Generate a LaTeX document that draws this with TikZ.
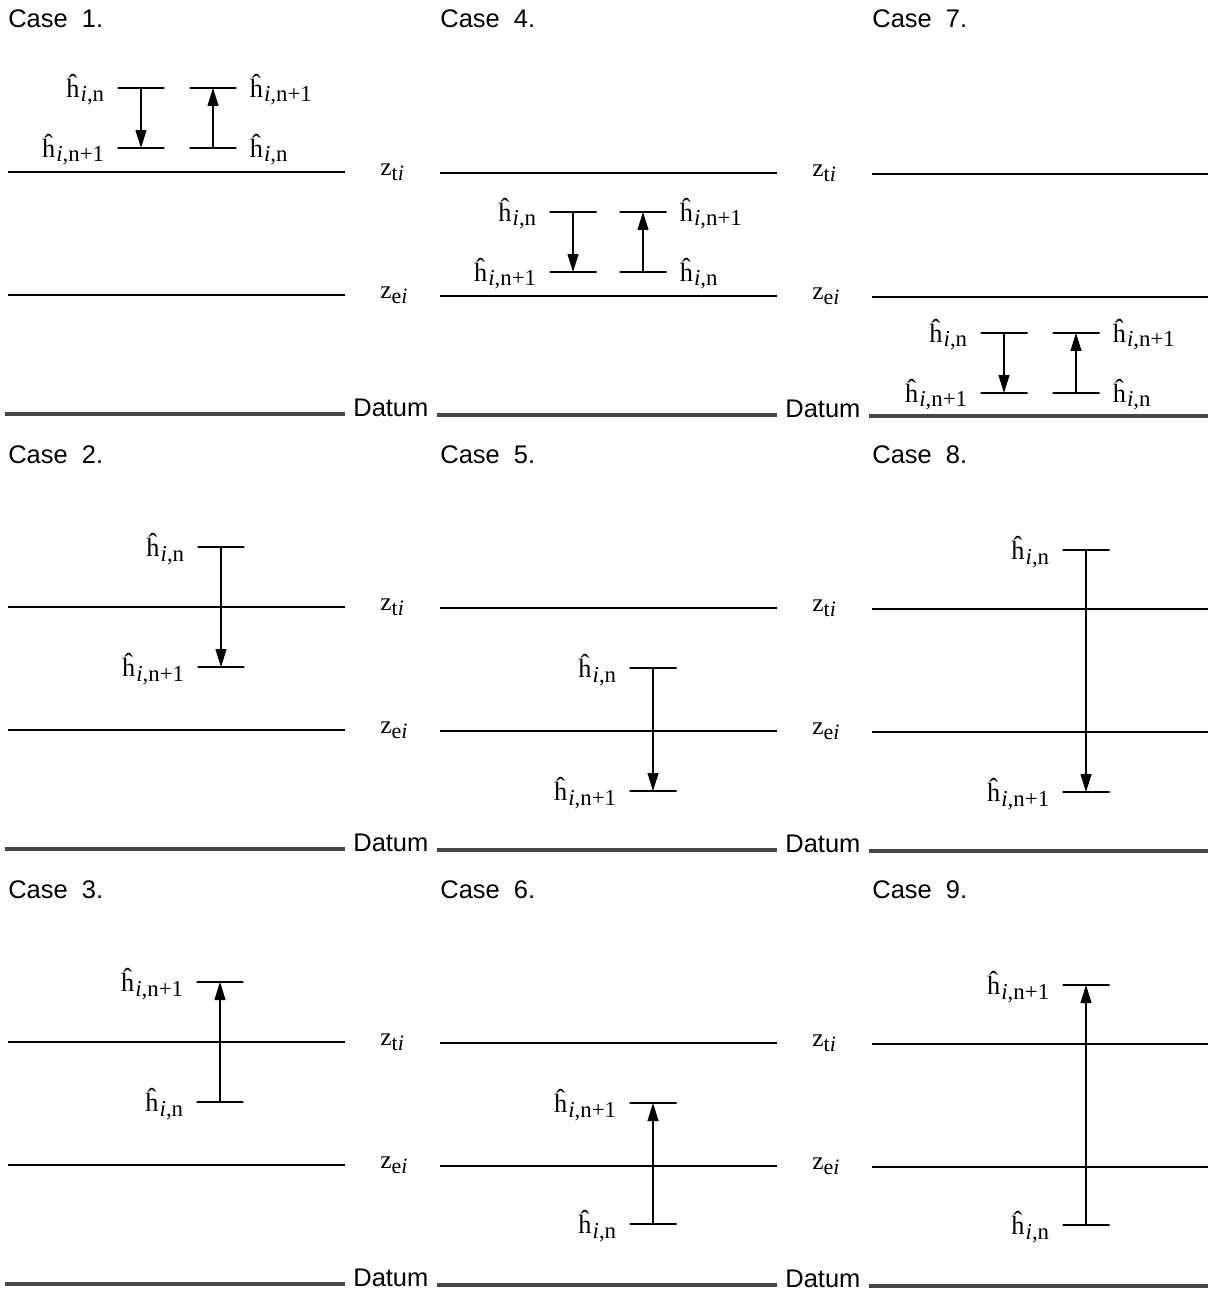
\documentclass[tikz,border=0pt]{standalone}
\usepackage{fontspec}
\setmainfont{Liberation Sans}
\newfontfamily\tms{Liberation Serif}
\usetikzlibrary{positioning,arrows.meta}
\definecolor{DatumGray}{HTML}{474747}
\newcommand{\hlab}[1]{{\tms\fontsize{15}{17}\selectfont ĥ\kern0.6pt\raisebox{-0.4ex}{\fontsize{13}{14}\selectfont\textit{i},#1}}}
\newcommand{\zlab}[1]{{\tms\fontsize{14.5}{16}\selectfont z\raisebox{-0.5ex}{\fontsize{12.5}{14}\selectfont #1\textit{i}}}}

\begin{document}
\begin{tikzpicture}[x=0.02cm, y=-0.02cm, font=\fontsize{14.5}{17}\selectfont,
  level/.style={line width=1.4pt},
  datum/.style={DatumGray, line width=2.1pt},
  tickmark/.style={draw, line width=0.7pt, minimum width=0.94cm, minimum height=0pt, inner sep=0pt, outer sep=0pt},
  hl/.style={inner sep=0pt, yshift=-1pt},
  flow/.style={-{Triangle[length=3.6mm,width=2.2mm]}, line width=0.6pt}]
  \useasboundingbox (0,0) rectangle (1207,1291);

  \foreach \c/\xo/\xe/\dy in {0/8/345/0, 1/440/777/1, 2/872/1209/2}
    \foreach \r in {0,1,2} {
      \pgfmathtruncatemacro\k{3*\c+\r+1}
      \node[anchor=base west, inner sep=0pt] (case\k) at (\xo,{28+435*\r}) {Case~~\k.};
      \draw[level] (\xo,{172+435*\r+\dy}) -- (\xe,{172+435*\r+\dy});
      \draw[level] (\xo,{295+435*\r+\dy}) -- (\xe,{295+435*\r+\dy});
      \draw[datum] (\xo-3,{414+435*\r+\dy}) -- (\xe,{414+435*\r+\dy});
    }
  \foreach \c/\xo/\dy in {0/8/0, 1/440/1}
    \foreach \r in {0,1,2} {
      \node[anchor=base west, inner sep=0pt] (zt\c\r) at (\xo+372,{175+435*\r+\dy}) {\zlab{t}};
      \node[anchor=base west, inner sep=0pt] (ze\c\r) at (\xo+372,{298+435*\r+\dy}) {\zlab{e}};
      \node[anchor=base west, inner sep=0pt] (datum\c\r) at (\xo+345,{416+435*\r+\dy}) {Datum};
    }

  % two short steps inside one band
  \foreach \k/\xa/\xb/\yt/\yb in {1/141/213/88/148, 4/573/643/212/272, 7/1004/1076/333/393} {
    \node[tickmark] (c\k-ln) at (\xa,\yt) {};
    \node[tickmark] (c\k-lm) at (\xa,\yb) {};
    \node[tickmark] (c\k-rm) at (\xb,\yt) {};
    \node[tickmark] (c\k-rn) at (\xb,\yb) {};
    \node[hl, left=0.26cm of c\k-ln] (h\k-ln) {\hlab{n}};
    \node[hl, left=0.26cm of c\k-lm] (h\k-lm) {\hlab{n+1}};
    \node[hl, right=0.26cm of c\k-rm] (h\k-rm) {\hlab{n+1}};
    \node[hl, right=0.26cm of c\k-rn] (h\k-rn) {\hlab{n}};
    \draw[flow] (c\k-ln.center) -- (c\k-lm.center);
    \draw[flow] (c\k-rn.center) -- (c\k-rm.center);
  }

  % one long step across the bands
  \foreach \k/\x/\yn/\ym in {2/221/547/667, 3/220/1102/982, 5/653/668/791, 6/653/1224/1103, 8/1086/550/792, 9/1086/1225/985} {
    \node[tickmark] (c\k-n) at (\x,\yn) {};
    \node[tickmark] (c\k-m) at (\x,\ym) {};
    \node[hl, left=0.26cm of c\k-n] (h\k-n) {\hlab{n}};
    \node[hl, left=0.26cm of c\k-m] (h\k-m) {\hlab{n+1}};
    \draw[flow] (c\k-n.center) -- (c\k-m.center);
  }
\end{tikzpicture}
\end{document}
